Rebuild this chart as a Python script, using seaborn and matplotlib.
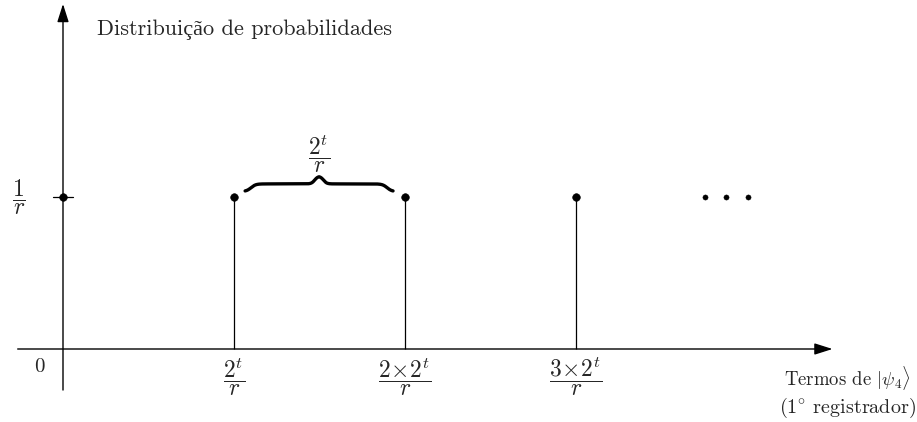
import numpy as np
import matplotlib
matplotlib.use("Agg")
import matplotlib.pyplot as plt
import seaborn as sns
import pandas as pd

sns.set_style("white")
plt.rcParams['mathtext.fontset'] = 'cm'
plt.rcParams['font.family'] = ['cmr10', 'Liberation Serif']
plt.rcParams['axes.unicode_minus'] = False

# data
positions = [0, 1, 2, 3]
probabilities = [1, 1, 1, 1]
tick_labels = [r'$\dfrac{2^t}{r}$', r'$\dfrac{2\!\times\!2^t}{r}$', r'$\dfrac{3\!\times\!2^t}{r}$']
ellipsis_x = [3.755, 3.88, 4.005]
ellipsis_y = [1, 1, 1]

df = pd.DataFrame({'x': positions, 'p': probabilities})

fig = plt.figure(figsize=(9.17, 4.22), dpi=100)
ax = fig.add_axes([0, 0, 1, 1])
ax.set_xlim(-63 / 171, (917 - 63) / 171)
ax.set_ylim((349 - 422) / 152, 349 / 152)
ax.axis('off')

# axes with arrows
ax.annotate('', xy=(4.50, 0), xytext=(-0.265, 0),
            arrowprops=dict(arrowstyle='-|>,head_length=1.1,head_width=0.35', lw=1.0, color='black',
                            shrinkA=0, shrinkB=0))
ax.annotate('', xy=(0, 2.27), xytext=(0, -0.27),
            arrowprops=dict(arrowstyle='-|>,head_length=1.1,head_width=0.35', lw=1.0, color='black',
                            shrinkA=0, shrinkB=0))

# stems
ax.vlines(df['x'][1:], 0, df['p'][1:], color='black', lw=0.9)
sns.scatterplot(data=df, x='x', y='p', ax=ax, color='black', s=30, edgecolor='black', zorder=5, legend=False)
sns.scatterplot(x=ellipsis_x, y=ellipsis_y, ax=ax, color='black', s=14, edgecolor='black', legend=False)

# tick at 1/r
ax.plot([-0.06, 0.06], [1, 1], color='black', lw=0.9)
ax.text(-0.255, 1.0, r'$\dfrac{1}{r}$', fontsize=17, ha='center', va='center')
ax.text(-0.135, -0.12, r'$0$', fontsize=15, ha='center', va='center')

for xp, lab in zip(positions[1:], tick_labels):
    ax.text(xp, -0.18, lab, fontsize=17, ha='center', va='center')

# brace between x=1 and x=2
x0, x1 = 1.065, 1.93
yb = 1.04
body, cusp = 0.05, 0.05
t = np.linspace(0, 1, 600)
u = np.minimum(t, 1 - t)
sig = lambda z: 1 / (1 + np.exp(-z))
ys = body * sig((u - 0.04) / 0.016) + cusp * sig((u - 0.47) / 0.011)
ys = ys - ys[0]
ax.plot(x0 + (x1 - x0) * t, yb + ys, color='black', lw=2.4, solid_capstyle='round')
ax.text(1.5, 1.285, r'$\dfrac{2^t}{r}$', fontsize=17, ha='center', va='center')

ax.text(0.2, 2.1, 'Distribuição de probabilidades', fontsize=16, ha='left', va='center')
ax.text(4.96, -0.19, r'Termos de $|\psi_4\rangle$', fontsize=13.5, ha='right', va='center')
ax.text(4.99, -0.39, r'($1^{\circ}$ registrador)', fontsize=14.5, ha='right', va='center')

fig.savefig('out.png', dpi=100)
